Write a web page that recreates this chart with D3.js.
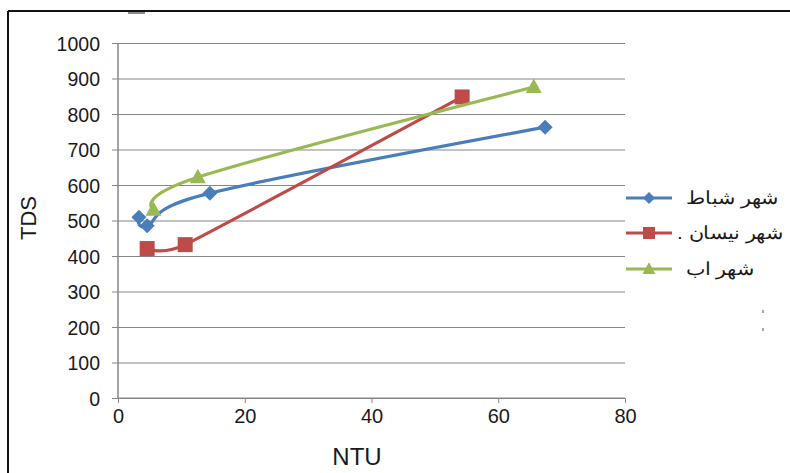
<!DOCTYPE html>
<html>
<head>
<meta charset="utf-8">
<script src="https://cdn.jsdelivr.net/npm/d3@7/dist/d3.min.js"></script>
<style>
  html, body { margin: 0; padding: 0; background: #fff; }
  svg { display: block; }
  text { font-family: "Liberation Sans", Arial, sans-serif; fill: #1a1a1a; }
</style>
</head>
<body>
<svg id="chart" width="790" height="473"></svg>
<script>
// Turbidity (NTU) against total dissolved solids (TDS) for three months
const seriesNames = ["شهر شباط", "شهر نيسان .", "شهر اب"];
const febNTU = [3.3, 4.6, 14.5, 67.4];
const febTDS = [509, 485, 577, 763];
const aprNTU = [4.6, 10.6, 54.3];
const aprTDS = [421, 432, 848];
const augNTU = [5.6, 12.6, 65.6];
const augTDS = [530, 622, 876];
const xTicks = [0, 20, 40, 60, 80];
const yTicks = [0, 100, 200, 300, 400, 500, 600, 700, 800, 900, 1000];

const series = [
  { name: seriesNames[0], x: febNTU, y: febTDS, color: "#4A7EBB", marker: "diamond", curve: d3.curveCatmullRom.alpha(0) },
  { name: seriesNames[1], x: aprNTU, y: aprTDS, color: "#BE4B48", marker: "square", curve: d3.curveCardinal.tension(0.55) },
  { name: seriesNames[2], x: augNTU, y: augTDS, color: "#98B954", marker: "triangle", curve: d3.curveCatmullRom.alpha(0) }
];

const svg = d3.select("#chart");
const W = 790, H = 473;

// outer frame (top and left edges visible)
svg.append("line").attr("x1", 8).attr("y1", 11).attr("x2", W).attr("y2", 11)
  .attr("stroke", "#111").attr("stroke-width", 2);
svg.append("line").attr("x1", 8).attr("y1", 11).attr("x2", 8).attr("y2", H)
  .attr("stroke", "#111").attr("stroke-width", 2);
svg.append("rect").attr("x", 128).attr("y", 12).attr("width", 17).attr("height", 2).attr("fill", "#8a8a8a");

const x = d3.scaleLinear().domain([0, 80]).range([118, 625]);
const y = d3.scaleLinear().domain([0, 1000]).range([398, 43]);

// horizontal gridlines, extended left as tick marks
const yAxis = d3.axisLeft(y).tickValues(yTicks).tickFormat(d3.format("d"))
  .tickSize(-(625 - 118)).tickSizeOuter(0);
const gy = svg.append("g").attr("transform", "translate(118,0)").call(yAxis);
gy.select(".domain").remove();
gy.selectAll(".tick line").attr("stroke", "#868686").attr("stroke-width", 1).attr("x1", -6);
gy.selectAll(".tick text").attr("font-size", 19.5).attr("fill", "#1a1a1a")
  .attr("font-family", "Liberation Sans, Arial, sans-serif").attr("x", -18).attr("dy", "0.36em");

const xAxis = d3.axisBottom(x).tickValues(xTicks).tickSize(5).tickSizeOuter(0).tickPadding(6);
const gx = svg.append("g").attr("transform", "translate(0,398)").call(xAxis);
gx.select(".domain").attr("stroke", "#868686").attr("d", "M118,0H625");
gx.selectAll(".tick line").attr("stroke", "#868686");
gx.selectAll(".tick text").attr("font-size", 20).attr("fill", "#1a1a1a")
  .attr("font-family", "Liberation Sans, Arial, sans-serif");

// y axis line
svg.append("line").attr("x1", 118).attr("x2", 118).attr("y1", y(1000)).attr("y2", y(0))
  .attr("stroke", "#868686").attr("stroke-width", 1.5);

// axis titles
svg.append("text").attr("x", 357).attr("y", 465).attr("text-anchor", "middle")
  .attr("font-size", 24).text("NTU");
svg.append("text").attr("transform", "translate(36,218) rotate(-90)").attr("text-anchor", "middle")
  .attr("font-size", 22).text("TDS");

function markerPath(kind, s) {
  if (kind === "diamond") return `M0,${-s}L${s},0L0,${s}L${-s},0Z`;
  if (kind === "square") return `M${-s},${-s}H${s}V${s}H${-s}Z`;
  return `M0,${-s * 1.05}L${s},${s * 0.75}L${-s},${s * 0.75}Z`;
}
const markerSize = { diamond: 7.5, square: 7.5, triangle: 8 };

// smoothed lines through the measured points
series.forEach(s => {
  const pts = s.x.map((v, i) => [v, s.y[i]]);
  const line = d3.line().x(d => x(d[0])).y(d => y(d[1])).curve(s.curve);
  svg.append("path").attr("d", line(pts)).attr("fill", "none")
    .attr("stroke", s.color).attr("stroke-width", 3.2).attr("stroke-linejoin", "round");
  svg.append("g").selectAll("path").data(pts).join("path")
    .attr("transform", d => `translate(${x(d[0])},${y(d[1])})`)
    .attr("d", markerPath(s.marker, markerSize[s.marker]))
    .attr("fill", s.color);
});

// legend
const legY = [198, 233, 269];
const leg = svg.append("g");
const labels = [];
series.forEach((s, i) => {
  leg.append("line").attr("x1", 626).attr("x2", 672).attr("y1", legY[i]).attr("y2", legY[i])
    .attr("stroke", s.color).attr("stroke-width", 3.2);
  leg.append("path").attr("transform", `translate(649,${legY[i]})`)
    .attr("d", markerPath(s.marker, markerSize[s.marker] - 1.5)).attr("fill", s.color);
  labels.push(leg.append("text").attr("x", 0).attr("y", 0)
    .attr("direction", "rtl").attr("text-anchor", "end")
    .attr("font-family", "DejaVu Sans, sans-serif").attr("font-size", 18)
    .text(s.name));
});
// widen the Arabic labels to fill the legend column without passing its right edge
const lens = labels.map(t => t.node().getComputedTextLength());
const sx = Math.max(1, Math.min(96 / lens[0], 106 / lens[1]));
labels.forEach((t, i) => {
  const left = Math.min(686, 783 - lens[i] * sx);
  t.attr("transform", `translate(${left},${legY[i] + 6}) scale(${sx},1)`);
});

// empty legend entries shown as faint dots
[310, 328].forEach(v => {
  leg.append("rect").attr("x", 762).attr("y", v).attr("width", 2).attr("height", 3).attr("fill", "#aaa");
});
</script>
</body>
</html>
